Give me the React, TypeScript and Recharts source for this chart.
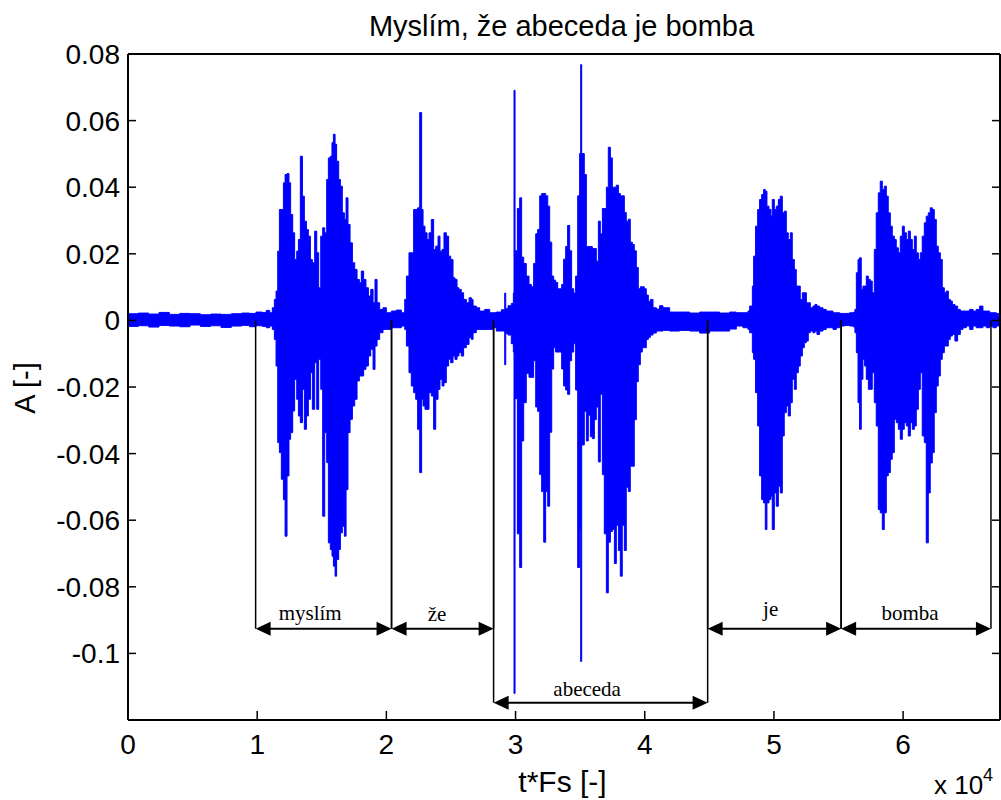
import {
  ComposedChart,
  Area,
  XAxis,
  YAxis,
  ReferenceLine,
  ReferenceDot,
} from "recharts";

// Envelope of the recording, one column per entry: [sample, max, min]
const silenceLead = [
  [0, 0.002, -0.0018],
  [800, 0.0022, -0.0016],
  [1600, 0.0019, -0.002],
  [2400, 0.0024, -0.0015],
  [3200, 0.0018, -0.0017],
  [4000, 0.0021, -0.0019],
  [4800, 0.002, -0.0014],
  [5600, 0.0017, -0.0018],
  [6400, 0.0019, -0.0016],
  [7200, 0.0018, -0.0021],
  [8000, 0.002, -0.0017],
  [8800, 0.0022, -0.0015],
  [9400, 0.0021, -0.0019],
  [9900, 0.0025, -0.0016],
  [10400, 0.0024, -0.0018],
  [10700, 0.003, -0.0022],
];

const myslim = [
  [10970, 0.0023, -0.0017],
  [11170, 0.0038, -0.0027],
  [11330, 0.0063, -0.0057],
  [11460, 0.0088, -0.0137],
  [11590, 0.0208, -0.0367],
  [11720, 0.0333, -0.0397],
  [11870, 0.0333, -0.0477],
  [12030, 0.0413, -0.0538],
  [12160, 0.0438, -0.0648],
  [12310, 0.0441, -0.0467],
  [12460, 0.0413, -0.0357],
  [12590, 0.0318, -0.0337],
  [12750, 0.0263, -0.0272],
  [12900, 0.0183, -0.0177],
  [13060, 0.0208, -0.0237],
  [13190, 0.0243, -0.0287],
  [13340, 0.0493, -0.0307],
  [13500, 0.0373, -0.0207],
  [13650, 0.0298, -0.0327],
  [13810, 0.0273, -0.0287],
  [13960, 0.0253, -0.0237],
  [14120, 0.0183, -0.0157],
  [14270, 0.0173, -0.0267],
  [14450, 0.0268, -0.0127],
  [14610, 0.0203, -0.0267],
  [14760, 0.0098, -0.0117],
  [14920, 0.0253, -0.0207],
  [15070, 0.0278, -0.0588],
  [15230, 0.0263, -0.0337],
  [15380, 0.0423, -0.0427],
  [15510, 0.0488, -0.0668],
  [15660, 0.0493, -0.0688],
  [15790, 0.0534, -0.0708],
  [15900, 0.0559, -0.0738],
  [16030, 0.0529, -0.0768],
  [16150, 0.0478, -0.0718],
  [16310, 0.0423, -0.0688],
  [16440, 0.0403, -0.0638],
  [16590, 0.0323, -0.0618],
  [16750, 0.0303, -0.0648],
  [16880, 0.0368, -0.0508],
  [17030, 0.0288, -0.0337],
  [17190, 0.0233, -0.0297],
  [17370, 0.0173, -0.0257],
  [17550, 0.0153, -0.0237],
  [17730, 0.0123, -0.0182],
  [17910, 0.0113, -0.0167],
  [18060, 0.0148, -0.0167],
  [18240, 0.0123, -0.0147],
  [18420, 0.0098, -0.0137],
  [18610, 0.0073, -0.0107],
  [18790, 0.0093, -0.0087],
  [18970, 0.0053, -0.0147],
  [19120, 0.0123, -0.0077],
  [19280, 0.0053, -0.0057],
  [19480, 0.0033, -0.0037],
  [19740, 0.0038, -0.0027],
  [20000, 0.0023, -0.0027],
  [20390, 0.0028, -0.0022],
  [20770, 0.0031, -0.0022],
  [21160, 0.0023, -0.0017],
];

const ze = [
  [21420, 0.0063, -0.0027],
  [21550, 0.0133, -0.0077],
  [21750, 0.0203, -0.0157],
  [21930, 0.0203, -0.0197],
  [22110, 0.0333, -0.0217],
  [22270, 0.0333, -0.0237],
  [22420, 0.0338, -0.0327],
  [22580, 0.0624, -0.0457],
  [22730, 0.0333, -0.0237],
  [22840, 0.0283, -0.0257],
  [22990, 0.0263, -0.0267],
  [23150, 0.0243, -0.0267],
  [23300, 0.0263, -0.0217],
  [23480, 0.0303, -0.0227],
  [23660, 0.0213, -0.0327],
  [23820, 0.0223, -0.0237],
  [24000, 0.0253, -0.0207],
  [24150, 0.0208, -0.0177],
  [24310, 0.0213, -0.0197],
  [24460, 0.0263, -0.0187],
  [24640, 0.0253, -0.0137],
  [24820, 0.0193, -0.0117],
  [24980, 0.0183, -0.0127],
  [25160, 0.0128, -0.0107],
  [25310, 0.0123, -0.0117],
  [25470, 0.0098, -0.0107],
  [25620, 0.0093, -0.0097],
  [25800, 0.0083, -0.0107],
  [25980, 0.0063, -0.0082],
  [26190, 0.0053, -0.0072],
  [26400, 0.0068, -0.0052],
  [26580, 0.0063, -0.0057],
  [26710, 0.0043, -0.0037],
  [26960, 0.0038, -0.0027],
  [27220, 0.0028, -0.0027],
  [27610, 0.0033, -0.0027],
  [28000, 0.0023, -0.0027],
  [28250, 0.0023, -0.0022],
];

const abeceda = [
  [28510, 0.0025, -0.0032],
  [28900, 0.0032, -0.0032],
  [29160, 0.0082, -0.0133],
  [29240, 0.0035, -0.004],
  [29420, 0.0044, -0.0044],
  [29670, 0.0051, -0.007],
  [29830, 0.0082, -0.0095],
  [29880, 0.0691, -0.112],
  [29960, 0.0209, -0.0235],
  [30140, 0.0336, -0.0641],
  [30320, 0.0368, -0.0742],
  [30470, 0.019, -0.0362],
  [30630, 0.0171, -0.0247],
  [30830, 0.0133, -0.0159],
  [31040, 0.0108, -0.0171],
  [31220, 0.0101, -0.0171],
  [31400, 0.0171, -0.0121],
  [31560, 0.026, -0.026],
  [31710, 0.0273, -0.0273],
  [31870, 0.0374, -0.0463],
  [32020, 0.0381, -0.0514],
  [32180, 0.0381, -0.0666],
  [32330, 0.0374, -0.0514],
  [32490, 0.0343, -0.0558],
  [32640, 0.0235, -0.0336],
  [32800, 0.0133, -0.0146],
  [32950, 0.0121, -0.0082],
  [33100, 0.0114, -0.0095],
  [33260, 0.0095, -0.0095],
  [33410, 0.0095, -0.0095],
  [33570, 0.0108, -0.0146],
  [33720, 0.0184, -0.0197],
  [33880, 0.0222, -0.0209],
  [34030, 0.0285, -0.0222],
  [34190, 0.0209, -0.0121],
  [34340, 0.0095, -0.0095],
  [34500, 0.0082, -0.007],
  [34650, 0.0133, -0.0209],
  [34810, 0.0374, -0.0742],
  [34960, 0.0501, -0.0628],
  [35040, 0.0768, -0.1024],
  [35120, 0.0501, -0.0374],
  [35320, 0.0438, -0.0273],
  [35480, 0.0222, -0.0362],
  [35630, 0.0222, -0.0285],
  [35790, 0.0222, -0.0349],
  [35940, 0.0216, -0.0355],
  [36100, 0.0216, -0.0298],
  [36250, 0.0178, -0.026],
  [36410, 0.0298, -0.0425],
  [36560, 0.026, -0.0222],
  [36720, 0.0336, -0.0463],
  [36870, 0.0336, -0.0641],
  [37030, 0.04, -0.0818],
  [37180, 0.052, -0.0666],
  [37340, 0.0488, -0.0634],
  [37490, 0.04, -0.0628],
  [37650, 0.04, -0.073],
  [37800, 0.0406, -0.0615],
  [37960, 0.0381, -0.0691],
  [38110, 0.0374, -0.0768],
  [38260, 0.0374, -0.0615],
  [38420, 0.0324, -0.0691],
  [38570, 0.0298, -0.0501],
  [38730, 0.0304, -0.0514],
  [38880, 0.0235, -0.0438],
  [39040, 0.0228, -0.0438],
  [39190, 0.0209, -0.0298],
  [39350, 0.0159, -0.0184],
  [39500, 0.0095, -0.0133],
  [39660, 0.0101, -0.0095],
  [39810, 0.0101, -0.0082],
  [39970, 0.0095, -0.0082],
  [40120, 0.0076, -0.0057],
  [40280, 0.0057, -0.0051],
  [40430, 0.0063, -0.0044],
  [40640, 0.0038, -0.0038],
  [40900, 0.0034, -0.0032],
  [41150, 0.0044, -0.0032],
  [41410, 0.0038, -0.003],
  [41930, 0.0025, -0.0032],
  [42700, 0.0025, -0.003],
  [43480, 0.0022, -0.0032],
  [44250, 0.0025, -0.0038],
  [45020, 0.0025, -0.0032],
  [45800, 0.0022, -0.0032],
  [46570, 0.0025, -0.0026],
];

const je = [
  [47090, 0.0023, -0.0017],
  [47600, 0.0023, -0.0022],
  [47990, 0.0028, -0.0027],
  [48120, 0.0043, -0.0037],
  [48330, 0.0103, -0.0097],
  [48430, 0.0193, -0.0117],
  [48580, 0.0283, -0.0217],
  [48740, 0.0333, -0.0317],
  [48890, 0.0363, -0.0467],
  [49050, 0.0378, -0.0538],
  [49200, 0.0393, -0.0548],
  [49330, 0.0388, -0.0628],
  [49460, 0.0343, -0.0548],
  [49620, 0.0333, -0.0538],
  [49770, 0.0313, -0.0528],
  [49870, 0.0363, -0.0628],
  [50030, 0.0333, -0.0518],
  [50180, 0.0343, -0.0558],
  [50340, 0.0363, -0.0498],
  [50490, 0.0373, -0.0518],
  [50650, 0.0323, -0.0347],
  [50800, 0.0328, -0.0277],
  [50960, 0.0263, -0.0257],
  [51110, 0.0243, -0.0287],
  [51270, 0.0263, -0.0247],
  [51420, 0.0183, -0.0177],
  [51580, 0.0153, -0.0207],
  [51730, 0.0103, -0.0157],
  [51890, 0.0103, -0.0137],
  [52040, 0.0063, -0.0107],
  [52200, 0.0083, -0.0082],
  [52350, 0.0083, -0.0067],
  [52510, 0.0053, -0.0062],
  [52660, 0.0053, -0.0037],
  [52820, 0.0038, -0.0032],
  [53020, 0.0043, -0.0037],
  [53180, 0.0048, -0.0032],
  [53330, 0.0043, -0.0042],
  [53540, 0.0038, -0.0032],
  [53800, 0.0033, -0.0027],
  [54050, 0.0028, -0.0022],
  [54310, 0.0028, -0.0022],
  [54570, 0.0023, -0.0027],
  [54830, 0.0023, -0.0022],
  [55090, 0.0021, -0.0017],
];

const bomba = [
  [55470, 0.0021, -0.0015],
  [55860, 0.0023, -0.0017],
  [56170, 0.0025, -0.002],
  [56270, 0.0033, -0.0037],
  [56380, 0.0143, -0.0097],
  [56510, 0.0183, -0.0247],
  [56630, 0.0188, -0.0327],
  [56760, 0.0093, -0.0177],
  [56890, 0.0103, -0.0117],
  [57020, 0.0103, -0.0137],
  [57150, 0.0133, -0.0177],
  [57310, 0.0123, -0.0207],
  [57460, 0.0118, -0.0207],
  [57610, 0.0083, -0.0157],
  [57770, 0.0213, -0.0247],
  [57920, 0.0323, -0.0317],
  [58080, 0.0383, -0.0568],
  [58230, 0.0418, -0.0578],
  [58390, 0.0393, -0.0628],
  [58540, 0.0403, -0.0578],
  [58700, 0.0373, -0.0467],
  [58850, 0.0323, -0.0457],
  [59010, 0.0283, -0.0417],
  [59160, 0.0253, -0.0397],
  [59320, 0.0243, -0.0297],
  [59470, 0.0218, -0.0307],
  [59630, 0.0203, -0.0327],
  [59780, 0.0253, -0.0357],
  [59940, 0.0283, -0.0327],
  [60090, 0.0263, -0.0307],
  [60250, 0.0243, -0.0317],
  [60400, 0.0268, -0.0347],
  [60560, 0.0243, -0.0307],
  [60710, 0.0213, -0.0327],
  [60870, 0.0253, -0.0317],
  [61020, 0.0203, -0.0267],
  [61180, 0.0183, -0.0207],
  [61330, 0.0203, -0.0157],
  [61480, 0.0253, -0.0347],
  [61640, 0.0293, -0.0367],
  [61790, 0.0313, -0.0668],
  [61950, 0.0323, -0.0518],
  [62100, 0.0338, -0.0428],
  [62260, 0.0333, -0.0397],
  [62410, 0.0303, -0.0277],
  [62570, 0.0223, -0.0197],
  [62720, 0.0203, -0.0167],
  [62880, 0.0183, -0.0117],
  [63030, 0.0098, -0.0097],
  [63190, 0.0083, -0.0077],
  [63340, 0.0088, -0.0077],
  [63500, 0.0063, -0.0057],
  [63650, 0.0058, -0.0047],
  [63810, 0.0048, -0.0042],
  [64010, 0.0043, -0.0062],
  [64220, 0.0033, -0.0042],
  [64430, 0.0028, -0.0027],
  [64630, 0.0028, -0.0022],
  [64890, 0.0028, -0.0017],
  [65150, 0.0033, -0.0027],
  [65410, 0.0028, -0.0017],
  [65660, 0.0033, -0.0022],
  [65920, 0.0043, -0.0022],
  [66180, 0.0028, -0.0017],
  [66440, 0.0028, -0.0022],
  [66700, 0.0023, -0.0017],
  [66950, 0.0023, -0.0022],
  [67210, 0.0021, -0.0017],
  [67400, 0.0018, -0.0017],
];

const SIGNAL_LENGTH = 67500;

const xTicks = [0, 10000, 20000, 30000, 40000, 50000, 60000];
const yTicks = [-0.1, -0.08, -0.06, -0.04, -0.02, 0, 0.02, 0.04, 0.06, 0.08];

// Word segmentation of the sentence
const words = ["myslím", "že", "abeceda", "je", "bomba"];
const wordStart = [9880, 20400, 28300, 44870, 55200];
const wordEnd = [20400, 28300, 44870, 55200, 66800];
const arrowLevel = [-0.0926, -0.0926, -0.1148, -0.0926, -0.0926];
const labelAtX = [14100, 23930, 35540, 49750, 60540];
const labelAtY = [-0.09, -0.0903, -0.1128, -0.0888, -0.09];

const BLUE = "#0000ff";
const SANS = '"Liberation Sans", Arial, Helvetica, sans-serif';
const SERIF = '"Liberation Serif", "Times New Roman", serif';

const envelope = [...silenceLead, ...myslim, ...ze, ...abeceda, ...je, ...bomba].map(
  ([t, hi, lo]) => ({ t, amp: [lo, hi] })
);
envelope.push({ t: SIGNAL_LENGTH, amp: envelope[envelope.length - 1].amp });

// MATLAB-style ticks: pointing into the plot box
const BottomTick = ({ x, y, payload }: any) => (
  <g>
    <line x1={x} y1={y} x2={x} y2={y - 9} stroke="#000" strokeWidth={1.5} />
    <text x={x} y={y + 34} textAnchor="middle" fontFamily={SANS} fontSize={28} fill="#000">
      {payload.value / 10000}
    </text>
  </g>
);

const TopTick = ({ x, y }: any) => (
  <line x1={x} y1={y} x2={x} y2={y + 9} stroke="#000" strokeWidth={1.5} />
);

const LeftTick = ({ x, y, payload }: any) => (
  <g>
    <line x1={x} y1={y} x2={x + 8} y2={y} stroke="#000" strokeWidth={1.5} />
    <text x={x - 8} y={y + 10} textAnchor="end" fontFamily={SANS} fontSize={28} fill="#000">
      {String(payload.value)}
    </text>
  </g>
);

const RightTick = ({ x, y }: any) => (
  <line x1={x} y1={y} x2={x - 8} y2={y} stroke="#000" strokeWidth={1.5} />
);

const DoubleArrow = (p: any) => {
  const left = Math.min(p.x1, p.x2);
  const right = Math.max(p.x1, p.x2);
  const y = p.y1;
  const len = 15;
  const half = 7;
  return (
    <g>
      <line x1={left + 4} y1={y} x2={right - 4} y2={y} stroke="#000" strokeWidth={2} />
      <polygon
        points={`${left},${y} ${left + len},${y - half} ${left + len},${y + half}`}
        fill="#000"
      />
      <polygon
        points={`${right},${y} ${right - len},${y - half} ${right - len},${y + half}`}
        fill="#000"
      />
    </g>
  );
};

export default function App() {
  return (
    <div style={{ position: "absolute", left: 0, top: 0, width: 1001, height: 800 }}>
      <ComposedChart
        width={1001}
        height={800}
        data={envelope}
        margin={{ top: 53, right: 0, bottom: 0, left: 0 }}
      >
        <XAxis
          xAxisId="b"
          dataKey="t"
          type="number"
          domain={[0, SIGNAL_LENGTH]}
          allowDataOverflow
          ticks={xTicks}
          interval={0}
          height={80}
          tickSize={0}
          tickMargin={0}
          tickLine={false}
          axisLine={{ stroke: "#000", strokeWidth: 2 }}
          tick={<BottomTick />}
        />
        <XAxis
          xAxisId="t"
          orientation="top"
          type="number"
          domain={[0, SIGNAL_LENGTH]}
          allowDataOverflow
          ticks={xTicks}
          interval={0}
          height={1}
          tickSize={0}
          tickMargin={0}
          tickLine={false}
          axisLine={{ stroke: "#000", strokeWidth: 2 }}
          tick={<TopTick />}
        />
        <YAxis
          yAxisId="l"
          type="number"
          domain={[-0.12, 0.08]}
          allowDataOverflow
          ticks={yTicks}
          interval={0}
          width={128}
          tickSize={0}
          tickMargin={0}
          tickLine={false}
          axisLine={{ stroke: "#000", strokeWidth: 2 }}
          tick={<LeftTick />}
        />
        <YAxis
          yAxisId="r"
          orientation="right"
          type="number"
          domain={[-0.12, 0.08]}
          allowDataOverflow
          ticks={yTicks}
          interval={0}
          width={1}
          tickSize={0}
          tickMargin={0}
          tickLine={false}
          axisLine={{ stroke: "#000", strokeWidth: 2 }}
          tick={<RightTick />}
        />

        <Area
          xAxisId="b"
          yAxisId="l"
          dataKey="amp"
          type="stepAfter"
          stroke={BLUE}
          strokeWidth={1}
          fill={BLUE}
          fillOpacity={1}
          dot={false}
          activeDot={false}
          isAnimationActive={false}
        />

        {/* word boundaries, dropped from the zero line to each word's arrow */}
        {words.map((w, i) => (
          <ReferenceLine
            key={`s-${w}`}
            xAxisId="b"
            yAxisId="l"
            segment={[
              { x: wordStart[i], y: 0 },
              { x: wordStart[i], y: arrowLevel[i] },
            ]}
            stroke="#000"
            strokeWidth={1.5}
          />
        ))}
        {words.map((w, i) => (
          <ReferenceLine
            key={`e-${w}`}
            xAxisId="b"
            yAxisId="l"
            segment={[
              { x: wordEnd[i], y: 0 },
              { x: wordEnd[i], y: arrowLevel[i] },
            ]}
            stroke="#000"
            strokeWidth={1.5}
          />
        ))}
        {words.map((w, i) => (
          <ReferenceLine
            key={`a-${w}`}
            xAxisId="b"
            yAxisId="l"
            segment={[
              { x: wordStart[i], y: arrowLevel[i] },
              { x: wordEnd[i], y: arrowLevel[i] },
            ]}
            shape={DoubleArrow}
          />
        ))}
        {words.map((w, i) => (
          <ReferenceDot
            key={`l-${w}`}
            xAxisId="b"
            yAxisId="l"
            x={labelAtX[i]}
            y={labelAtY[i]}
            r={0}
            ifOverflow="visible"
            shape={(p: any) => (
              <text
                x={p.cx}
                y={p.cy}
                textAnchor="middle"
                fontFamily={SERIF}
                fontSize={21}
                fill="#000"
              >
                {w}
              </text>
            )}
          />
        ))}
      </ComposedChart>

      <svg
        width={1001}
        height={800}
        style={{ position: "absolute", left: 0, top: 0, pointerEvents: "none" }}
      >
        <text x={561.5} y={36} textAnchor="middle" fontFamily={SANS} fontSize={29} fill="#000">
          Myslím, že abeceda je bomba
        </text>
        <text
          transform="translate(35,388) rotate(-90)"
          textAnchor="middle"
          fontFamily={SANS}
          fontSize={29}
          fill="#000"
        >
          A [-]
        </text>
        <text x={562.5} y={792} textAnchor="middle" fontFamily={SANS} fontSize={30} fill="#000">
          t*Fs [-]
        </text>
        <text x={934} y={794} fontFamily={SANS} fontSize={26} fill="#000">
          x 10
        </text>
        <text x={983} y={781} fontFamily={SANS} fontSize={18} fill="#000">
          4
        </text>
      </svg>
    </div>
  );
}
